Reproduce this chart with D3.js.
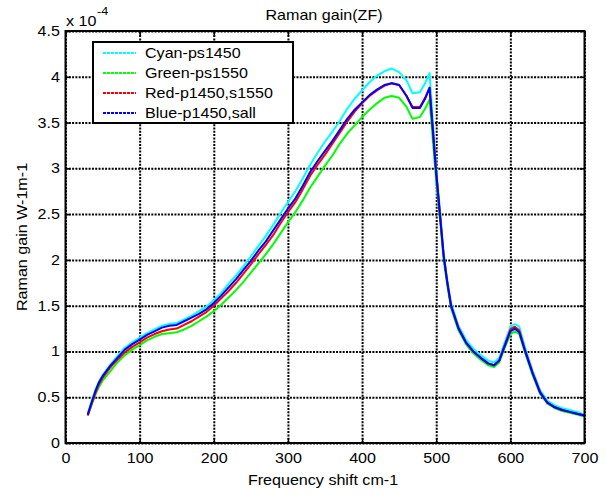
<!DOCTYPE html>
<html>
<head>
<meta charset="utf-8">
<script src="https://cdn.jsdelivr.net/npm/d3@7"></script>
<style>
  body { margin: 0; background: #fff; }
  text { font-family: "Liberation Sans", Arial, sans-serif; fill: #000; }
</style>
</head>
<body>
<div id="chart"></div>
<script>
// frequency shift (cm-1) samples
var shift = [30,35,40,45,50,60,70,80,90,100,110,120,130,140,150,160,170,180,190,200,
  210,220,230,240,250,260,270,280,290,300,310,320,330,340,350,360,370,380,390,400,
  410,420,430,440,450,460,468,478,485,491,500,505,510,515,520,530,540,550,560,570,
  578,585,592,600,606,612,620,630,640,650,660,670,680,690,700]

// raman gain, x 1e-4
var cyan = [0.32,0.45,0.57,0.67,0.74,0.85,0.95,1.04,1.10,1.15,1.20,1.24,1.28,1.30,1.31,1.35,1.39,1.44,1.49,1.56,
  1.64,1.74,1.83,1.93,2.04,2.15,2.26,2.38,2.51,2.63,2.75,2.89,3.04,3.17,3.29,3.40,3.52,3.65,3.76,3.85,
  3.94,4.01,4.06,4.09,4.05,3.96,3.82,3.83,3.93,4.04,3.00,2.55,2.08,1.78,1.53,1.28,1.13,1.03,0.96,0.90,
  0.88,0.93,1.09,1.27,1.30,1.27,1.04,0.79,0.58,0.46,0.41,0.38,0.36,0.34,0.31]
var green = [0.30,0.41,0.52,0.61,0.68,0.78,0.88,0.96,1.02,1.07,1.12,1.16,1.19,1.20,1.21,1.24,1.28,1.33,1.38,1.44,
  1.51,1.59,1.67,1.76,1.86,1.96,2.06,2.17,2.29,2.41,2.52,2.65,2.79,2.91,3.03,3.14,3.27,3.38,3.47,3.56,
  3.64,3.71,3.77,3.79,3.77,3.67,3.54,3.56,3.65,3.75,2.85,2.45,2.00,1.72,1.47,1.23,1.08,0.98,0.91,0.85,
  0.83,0.88,1.03,1.19,1.22,1.19,0.98,0.74,0.54,0.43,0.38,0.35,0.33,0.31,0.29]
var red = [0.30,0.42,0.54,0.64,0.71,0.82,0.91,0.99,1.05,1.10,1.15,1.19,1.22,1.24,1.25,1.29,1.33,1.38,1.43,1.50,
  1.58,1.66,1.75,1.85,1.95,2.06,2.16,2.27,2.40,2.52,2.63,2.77,2.92,3.04,3.15,3.27,3.39,3.51,3.62,3.71,
  3.79,3.85,3.90,3.93,3.91,3.79,3.67,3.67,3.77,3.88,2.95,2.50,2.05,1.75,1.50,1.26,1.10,1.00,0.93,0.87,
  0.85,0.90,1.06,1.24,1.27,1.23,1.01,0.77,0.56,0.44,0.39,0.36,0.34,0.32,0.30]
var blue = [0.31,0.44,0.56,0.66,0.73,0.84,0.93,1.02,1.08,1.13,1.18,1.22,1.26,1.28,1.29,1.33,1.37,1.41,1.46,1.53,
  1.61,1.70,1.79,1.89,1.99,2.10,2.20,2.32,2.44,2.56,2.67,2.81,2.96,3.08,3.19,3.30,3.42,3.54,3.64,3.72,
  3.80,3.86,3.91,3.93,3.91,3.79,3.66,3.66,3.76,3.88,2.95,2.50,2.05,1.75,1.50,1.25,1.10,1.00,0.93,0.87,
  0.85,0.90,1.05,1.22,1.25,1.21,1.00,0.76,0.55,0.44,0.39,0.36,0.34,0.32,0.30]

var names = ['Cyan-ps1450', 'Green-ps1550', 'Red-p1450,s1550', 'Blue-p1450,sall']
var colors = ['#00ffff', '#00ff00', '#ff0000', '#0000ff']
var series = [cyan, green, red, blue]

var xTicks = [0,100,200,300,400,500,600,700]
var yTicks = [0,0.5,1,1.5,2,2.5,3,3.5,4,4.5]

var W = 611, H = 495
var plotL = 65.5, plotR = 584.5, plotT = 31, plotB = 443
var stretch = "scale(1.15,1)"

var svg = d3.select("#chart").append("svg")
  .attr("width", W).attr("height", H)

var x = d3.scaleLinear().domain([0, 700]).range([plotL, plotR])
var y = d3.scaleLinear().domain([0, 4.5]).range([plotB, plotT])

// grid
svg.append("g")
  .attr("class", "grid")
  .attr("transform", "translate(0," + plotB + ")")
  .call(d3.axisBottom(x).tickValues(xTicks).tickSize(-(plotB - plotT)).tickFormat(""))
svg.append("g")
  .attr("class", "grid")
  .attr("transform", "translate(" + plotL + ",0)")
  .call(d3.axisLeft(y).tickValues(yTicks).tickSize(-(plotR - plotL)).tickFormat(""))
svg.selectAll(".grid .domain").remove()
svg.selectAll(".grid line")
  .attr("stroke", "#000").attr("stroke-width", 2).attr("stroke-dasharray", "2,1.3")

// curves
var line = d3.line()
  .x(function(d, i){ return x(shift[i]) })
  .y(function(d){ return y(d) })

series.forEach(function(s, k){
  svg.append("path")
    .datum(s)
    .attr("fill", "none")
    .attr("stroke", colors[k])
    .attr("stroke-width", 2)
    .attr("stroke-linejoin", "round")
    .attr("d", line)
})

// axes box and inward ticks
svg.append("rect")
  .attr("x", plotL).attr("y", plotT)
  .attr("width", plotR - plotL).attr("height", plotB - plotT)
  .attr("fill", "none").attr("stroke", "#000").attr("stroke-width", 2)

var xAxis = svg.append("g")
  .attr("class", "ax")
  .attr("transform", "translate(0," + plotB + ")")
  .call(d3.axisBottom(x).tickValues(xTicks).tickSizeInner(-5).tickSizeOuter(0).tickPadding(10))
var yAxis = svg.append("g")
  .attr("class", "ax")
  .attr("transform", "translate(" + plotL + ",0)")
  .call(d3.axisLeft(y).tickValues(yTicks).tickSizeInner(-5).tickSizeOuter(0).tickPadding(4.8)
    .tickFormat(function(d){ return d3.format("")(d) }))
svg.append("g")
  .attr("class", "ax")
  .attr("transform", "translate(0," + plotT + ")")
  .call(d3.axisTop(x).tickValues(xTicks).tickSizeInner(-5).tickSizeOuter(0).tickFormat(""))
svg.append("g")
  .attr("class", "ax")
  .attr("transform", "translate(" + plotR + ",0)")
  .call(d3.axisRight(y).tickValues(yTicks).tickSizeInner(-5).tickSizeOuter(0).tickFormat(""))

svg.selectAll(".ax .domain").remove()
svg.selectAll(".ax line").attr("stroke", "#000").attr("stroke-width", 1.5)

svg.selectAll(".ax text")
  .attr("font-size", null).attr("font-family", null)
  .style("font-size", "14px")
  .attr("fill", "#000")
  .attr("transform", stretch)

function label(px, py, s, anchor, size, rot) {
  var g = svg.append("g")
    .attr("transform", "translate(" + px + "," + py + ")" + (rot ? " rotate(" + rot + ")" : "") + " " + stretch)
  g.append("text")
    .attr("text-anchor", anchor)
    .style("font-size", size + "px")
    .text(s)
}

label(324, 20, "Raman gain(ZF)", "middle", 14)
label(323, 485, "Frequency shift cm-1", "middle", 14)
label(27, 237, "Raman gain W-1m-1", "middle", 14, -90)
label(66, 25.5, "x 10", "start", 14)
label(97, 15, "-4", "start", 11)

// legend
var lg = svg.append("g").attr("transform", "translate(93,42)")
lg.append("rect")
  .attr("width", 200).attr("height", 81)
  .attr("fill", "#fff").attr("stroke", "#000").attr("stroke-width", 2)

var rows = lg.selectAll(".legends")
  .data(names)
  .enter().append("g")
  .attr("class", "legends")
  .attr("transform", function(d, i){ return "translate(0," + (11 + i * 20) + ")" })

rows.append("line")
  .attr("x1", 10).attr("x2", 43)
  .attr("stroke", function(d, i){ return colors[i] })
  .attr("stroke-width", 2)
  .attr("stroke-dasharray", "3,1")

rows.append("g")
  .attr("transform", "translate(52,5) " + stretch)
  .append("text")
  .style("font-size", "14px")
  .text(function(d){ return d })
</script>
</body>
</html>
